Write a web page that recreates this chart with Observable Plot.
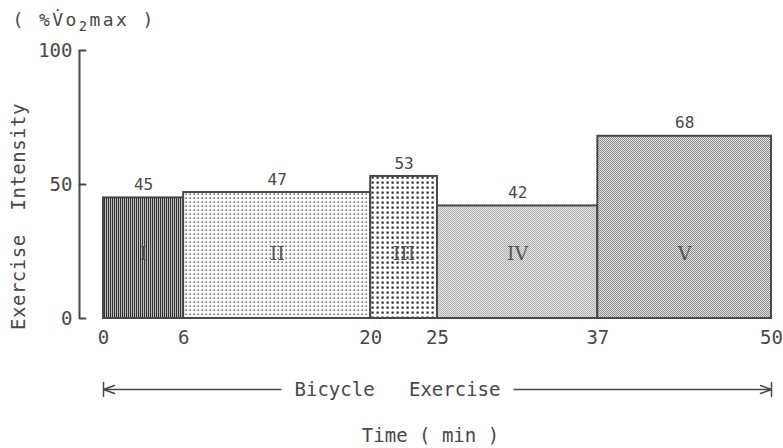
<!DOCTYPE html>
<html><head><meta charset="utf-8">
<script src="https://cdn.jsdelivr.net/npm/d3@7"></script>
<script src="https://cdn.jsdelivr.net/npm/@observablehq/plot@0.6"></script>
<style>body{margin:0;background:#fff}</style>
</head><body><div id="chart"></div>
<script>
const stages = ["I", "II", "III", "IV", "V"];
const startMin = [0, 6, 20, 25, 37];
const endMin = [6, 20, 25, 37, 50];
const intensity = [45, 47, 53, 42, 68];
const patternIds = ["stripes", "sparseDots", "denseDots", "fineGray", "fineDark"];
const xTicks = [0, 6, 20, 25, 37, 50];
const yTicks = [0, 50, 100];
const exerciseSpan = [0, 50];

const data = stages.map((s, i) => ({
  stage: s, start: startMin[i], end: endMin[i], value: intensity[i],
  pattern: `url(#${patternIds[i]})`
}));
const ends = [
  {x: exerciseSpan[0], y: 0, rot: -90},
  {x: exerciseSpan[1], y: 0, rot: 90}
];

const ink = "#484848";
const mono = "'DejaVu Sans Mono', monospace";
const serif = "'DejaVu Serif', 'Liberation Serif', serif";

const lineShape = {draw(ctx, l) { ctx.moveTo(0, 0); ctx.lineTo(0, -l); }};
const endShape = {draw(ctx) {
  ctx.moveTo(-7, 0); ctx.lineTo(7, 0);
  ctx.moveTo(-4, 11); ctx.lineTo(0, 0); ctx.lineTo(4, 11);
}};

const bicycleText = "Bicycle\u00a0\u00a0\u00a0Exercise";
const timeText = "Time ( min )";
const yLabelText = "Exercise\u00a0\u00a0Intensity";
const unitText = "( %V\u0307o2max )";

const svg = Plot.plot({
  width: 783, height: 448,
  marginLeft: 103, marginRight: 12, marginTop: 50, marginBottom: 130,
  style: {fontFamily: mono, color: ink, background: "#fff"},
  x: {domain: [xTicks[0], xTicks[xTicks.length - 1]]},
  y: {domain: [yTicks[0], yTicks[yTicks.length - 1]]},
  color: {type: "identity"},
  marks: [
    Plot.rectY(data, {x1: "start", x2: "end", y: "value", fill: "pattern", stroke: ink, strokeWidth: 2}),
    Plot.text(data, {x: d => (d.start + d.end) / 2, y: "value", text: d => String(d.value), dy: -13, fontSize: 16}),
    Plot.text(data, {x: d => (d.start + d.end) / 2, y: yTicks[0], text: "stage", dy: -65, fontSize: 19, fontFamily: serif, fill: "#555"}),
    Plot.ruleX([xTicks[0]], {y1: yTicks[0], y2: yTicks[yTicks.length - 1], dx: -24, stroke: ink, strokeWidth: 2}),
    Plot.vector(yTicks, {y: d => d, frameAnchor: "left", dx: -24, rotate: 90, length: 6, anchor: "start", shape: lineShape, stroke: ink, strokeWidth: 2, fill: "none"}),
    Plot.axisY({ticks: yTicks, tickSize: 0, tickPadding: 7, dx: -24, label: null, fontSize: 19}),
    Plot.axisX({ticks: xTicks, tickSize: 0, tickPadding: 12, label: null, fontSize: 19}),
    Plot.ruleY([yTicks[0]], {x1: exerciseSpan[0], x2: exerciseSpan[1], dy: 71, stroke: ink, strokeWidth: 1.5}),
    Plot.vector(ends, {x: "x", y: "y", rotate: "rot", dy: 71, length: 1, anchor: "start", shape: endShape, stroke: ink, strokeWidth: 1.5, fill: "none"}),
    Plot.text([bicycleText], {frameAnchor: "bottom", textAnchor: "middle", lineAnchor: "middle", dx: -40, dy: 71, fontSize: 19}),
    Plot.text([timeText], {frameAnchor: "bottom", textAnchor: "middle", lineAnchor: "middle", dx: -7, dy: 117, fontSize: 19}),
    Plot.text([yLabelText], {frameAnchor: "left", textAnchor: "middle", lineAnchor: "middle", rotate: -90, dx: -85, dy: 32, fontSize: 19}),
    Plot.text([unitText], {frameAnchor: "top-left", textAnchor: "start", lineAnchor: "middle", dx: -91, dy: -30, fontSize: 18})
  ]
});

// hatch / screen patterns for the bars
const defs = d3.select(svg).insert("defs", ":first-child");
function pat(id, w, h, draw) {
  const p = defs.append("pattern").attr("id", id).attr("patternUnits", "userSpaceOnUse").attr("width", w).attr("height", h);
  draw(p);
}
pat("stripes", 2, 2, p => {
  p.append("rect").attr("width", 2).attr("height", 2).attr("fill", "#bdbdbd");
  p.append("rect").attr("width", 1).attr("height", 2).attr("fill", "#303030");
});
pat("sparseDots", 4, 4, p => {
  p.append("rect").attr("width", 4).attr("height", 4).attr("fill", "#fff");
  p.append("rect").attr("x", 1.5).attr("y", 1.5).attr("width", 1.3).attr("height", 1.3).attr("fill", "#2a2a2a");
});
pat("denseDots", 5, 5, p => {
  p.append("rect").attr("width", 5).attr("height", 5).attr("fill", "#fff");
  p.append("rect").attr("x", 1.5).attr("y", 1.5).attr("width", 2.2).attr("height", 2.2).attr("fill", "#2a2a2a");
});
pat("fineGray", 2, 2, p => {
  p.append("rect").attr("width", 2).attr("height", 2).attr("fill", "#e2e2e2");
  p.append("rect").attr("width", 1).attr("height", 1).attr("fill", "#b0b0b0");
  p.append("rect").attr("x", 1).attr("y", 1).attr("width", 1).attr("height", 1).attr("fill", "#b0b0b0");
});
pat("fineDark", 2, 2, p => {
  p.append("rect").attr("width", 2).attr("height", 2).attr("fill", "#dcdcdc");
  p.append("rect").attr("width", 1).attr("height", 1).attr("fill", "#939393");
  p.append("rect").attr("x", 1).attr("y", 1).attr("width", 1).attr("height", 1).attr("fill", "#939393");
});

document.getElementById("chart").appendChild(svg);

const spacing = new Map([[yLabelText, 0.5], [unitText, 2.4]]);
d3.select(svg).selectAll("text").each(function() {
  const s = spacing.get(this.textContent);
  if (s != null) this.setAttribute("letter-spacing", s);
  if (this.textContent === unitText) {
    // render the "2" of VO2 as a subscript
    const t = d3.select(this);
    t.text(null);
    t.append("tspan").text("( %V\u0307o");
    t.append("tspan").attr("dy", 5).attr("font-size", 14).text("2");
    t.append("tspan").attr("dy", -5).attr("font-size", 18).text("max )");
  }
  if (this.textContent === bicycleText) {
    // open a gap in the arrow line behind the words
    const b = this.getBBox();
    const pad = 13;
    const r = document.createElementNS("http://www.w3.org/2000/svg", "rect");
    r.setAttribute("x", b.x - pad);
    r.setAttribute("y", b.y);
    r.setAttribute("width", b.width + 2 * pad);
    r.setAttribute("height", b.height);
    r.setAttribute("fill", "#fff");
    const tr = this.getAttribute("transform");
    if (tr) r.setAttribute("transform", tr);
    this.parentNode.insertBefore(r, this);
  }
});
</script>
</body></html>
